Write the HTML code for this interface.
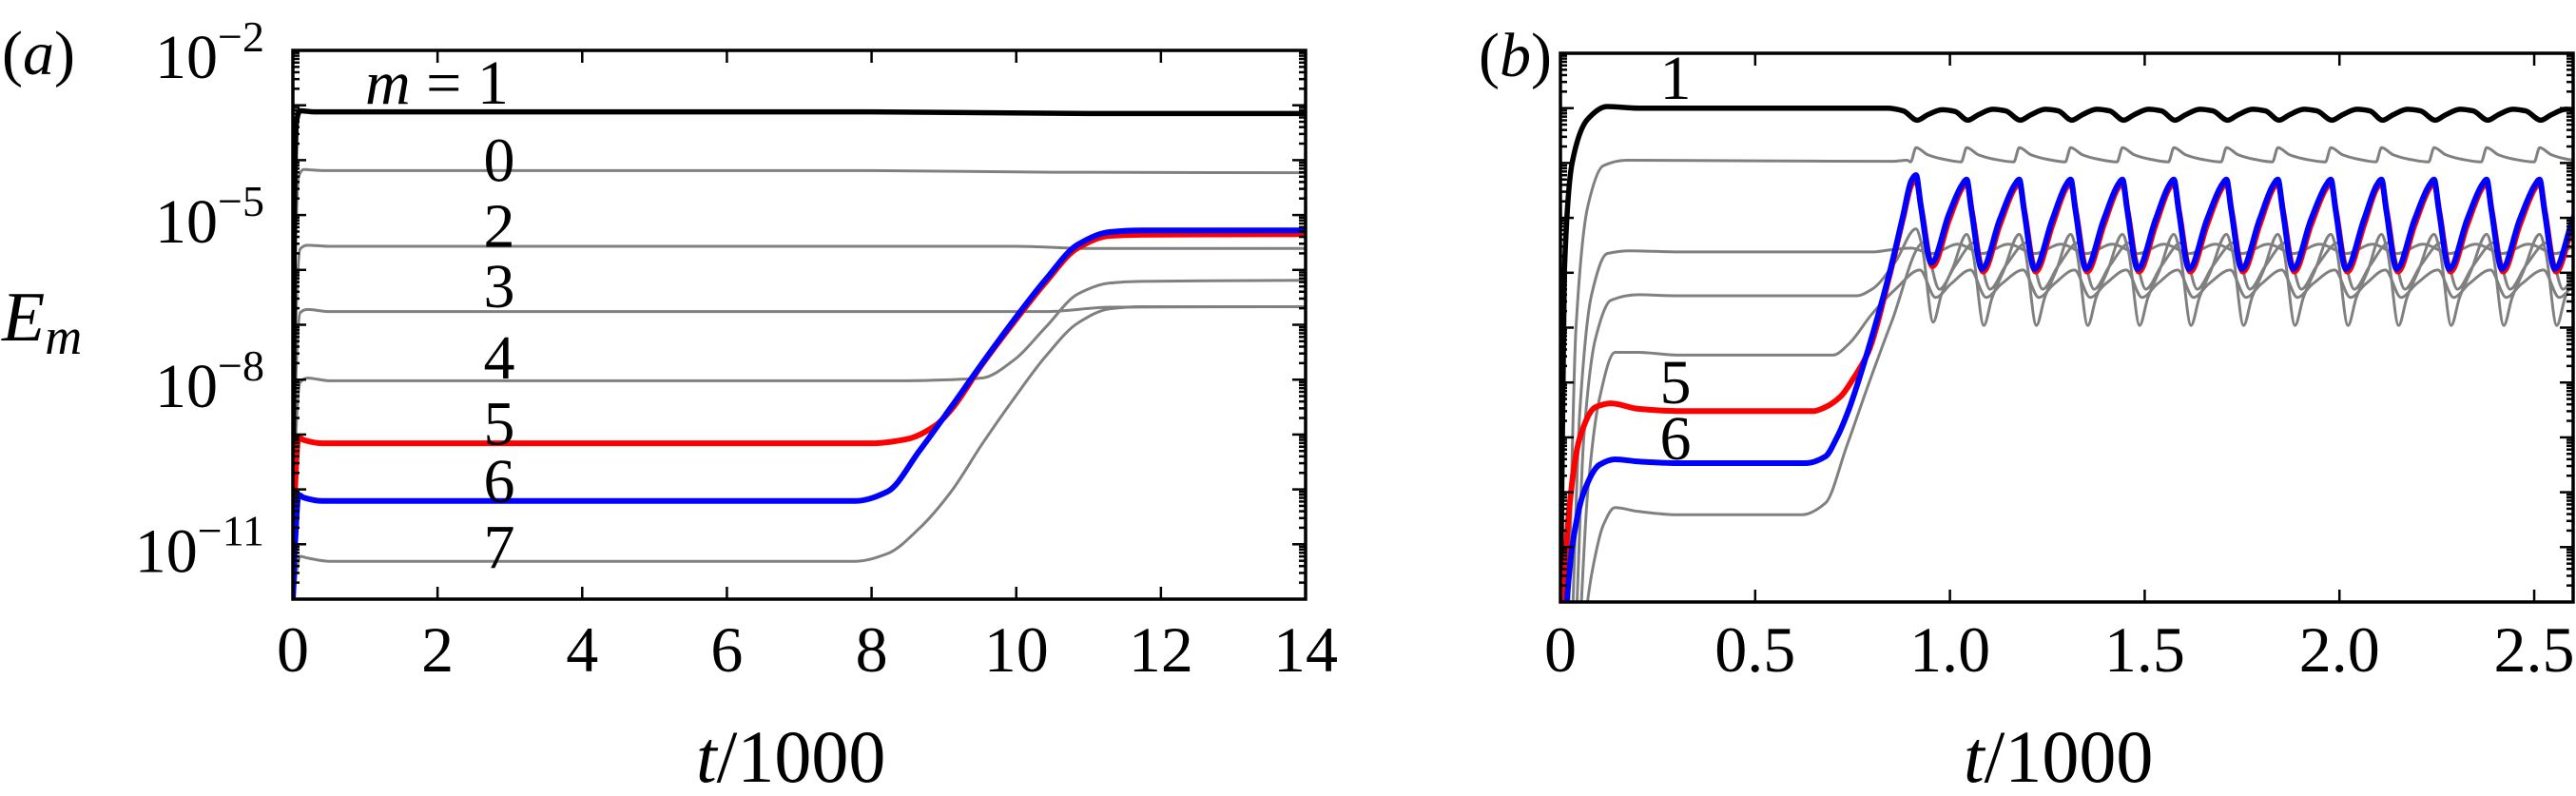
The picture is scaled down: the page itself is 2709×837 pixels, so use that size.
<!DOCTYPE html>
<html><head><meta charset="utf-8">
<style>
html,body{margin:0;padding:0;background:#fff;}
svg{display:block;}
svg text{font-family:"Liberation Serif","Times New Roman","Nimbus Roman","DejaVu Serif","Noto Serif CJK SC",serif;fill:#000;}
</style></head>
<body>
<svg id="fig" width="2709" height="837" viewBox="0 0 2709 837" xmlns="http://www.w3.org/2000/svg">
<defs>
<clipPath id="clipA"><rect x="308" y="53" width="1065" height="577"/></clipPath>
<clipPath id="clipB"><rect x="1641" y="56" width="1065" height="577"/></clipPath>
</defs>
<g id="panelA"></g>
<g id="panelB"></g>
<text x="2" y="78" font-size="66">(<tspan font-style="italic">a</tspan>)</text>
<text x="1555" y="80" font-size="66">(<tspan font-style="italic">b</tspan>)</text>
<text x="2" y="358" font-size="74" font-style="italic">E<tspan font-size="54" dy="14">m</tspan></text>
<text x="732" y="822" font-size="78"><tspan font-style="italic">t</tspan>/1000</text>
<text x="2065" y="822" font-size="78"><tspan font-style="italic">t</tspan>/1000</text>
</svg>
<script>
// ---------- Panel (a) data: [t/1000, log10 E] ----------
const aBlack=[[0,-12],[0.02,-5],[0.05,-3.3],[0.1,-3.1],[0.3,-3.12],[8,-3.12],[11,-3.15],[14,-3.15]];
const aM0=[[0,-12],[0.03,-6],[0.08,-4.3],[0.15,-4.17],[0.4,-4.19],[8,-4.19],[10.5,-4.22],[14,-4.23]];
const aM2=[[0,-12],[0.04,-7],[0.1,-5.62],[0.2,-5.55],[0.5,-5.57],[10,-5.57],[11,-5.61],[14,-5.61]];
const aM3=[[0,-12],[0.04,-8],[0.1,-6.78],[0.2,-6.72],[0.5,-6.76],[10.4,-6.76],[11.3,-6.68],[14,-6.67]];
const aM4=[[0,-12],[0.04,-9],[0.1,-8.05],[0.2,-7.97],[0.5,-8.02],[8.5,-8.02],[9.1,-8.0],[9.53,-7.97],[9.97,-7.64],[10.41,-7.04],[10.85,-6.44],[11.29,-6.24],[11.72,-6.21],[14,-6.19]];
const aM5=[[0,-12],[0.03,-10],[0.08,-9.05],[0.15,-9.1],[0.4,-9.16],[8.0,-9.16],[8.5,-9.08],[8.88,-8.84],[9.1,-8.55],[9.53,-7.72],[9.97,-6.95],[10.41,-6.22],[10.85,-5.6],[11.29,-5.38],[11.72,-5.36],[14,-5.35]];
const aM6=[[0,-12],[0.03,-11],[0.08,-10.1],[0.15,-10.15],[0.4,-10.21],[7.78,-10.21],[8.22,-10.04],[8.66,-9.3],[9.1,-8.5],[9.53,-7.7],[9.97,-6.91],[10.41,-6.17],[10.85,-5.54],[11.29,-5.31],[11.72,-5.28],[14,-5.28]];
const aM7=[[0,-12.3],[0.05,-11.5],[0.1,-11.22],[0.2,-11.25],[0.5,-11.31],[7.78,-11.31],[8.22,-11.17],[8.66,-10.71],[9.1,-10.04],[9.53,-9.17],[9.97,-8.34],[10.41,-7.57],[10.85,-6.97],[11.29,-6.71],[11.72,-6.67],[14,-6.67]];
const aXTicks=[0,2,4,6,8,10,12,14];
const aYTickExp=[-2,-5,-8,-11];
const aCurveLabels=["0","2","3","4","5","6","7"];
const aCurveLabelY=[-4.0,-5.2,-6.3,-7.6,-8.8,-9.85,-11.05];

// ---------- Panel (b) data ----------
const bBlackPre=[[0,-12.5],[0.01,-6],[0.03,-4],[0.07,-3.2],[0.12,-2.97],[0.2,-3.0],[0.5,-3.0],[0.84,-3.0],[0.88,-3.05]];
const bM0Pre=[[0.02,-12.5],[0.04,-7],[0.07,-4.8],[0.11,-4.05],[0.17,-3.95],[0.5,-3.96],[0.85,-3.97],[0.89,-3.95]];
const bM2Pre=[[0.03,-12.5],[0.05,-8.5],[0.08,-6.4],[0.12,-5.65],[0.18,-5.6],[0.3,-5.62],[0.8,-5.62],[0.85,-5.58],[0.9,-5.55]];
const bM3Pre=[[0.04,-12.5],[0.06,-9],[0.09,-7.2],[0.13,-6.5],[0.2,-6.4],[0.3,-6.42],[0.76,-6.42],[0.8,-6.3],[0.86,-5.8]];
const bM4Pre=[[0.05,-12.5],[0.07,-10],[0.1,-8.3],[0.14,-7.45],[0.2,-7.45],[0.3,-7.5],[0.7,-7.5],[0.74,-7.3],[0.8,-6.75],[0.86,-6.3]];
const bM7Pre=[[0.06,-12.5],[0.08,-11.5],[0.11,-10.6],[0.14,-10.28],[0.2,-10.35],[0.3,-10.41],[0.62,-10.41],[0.68,-10.2],[0.735,-9.16],[0.79,-8.05],[0.85,-6.9]];
const bRedPre=[[0.005,-12.5],[0.02,-10.5],[0.05,-9],[0.09,-8.45],[0.13,-8.38],[0.2,-8.48],[0.3,-8.52],[0.65,-8.52],[0.68,-8.45],[0.72,-8.25],[0.75,-7.95],[0.79,-7.45],[0.845,-6.05],[0.88,-5.0]];
const bBluePre=[[0.01,-12.5],[0.03,-11],[0.06,-10],[0.1,-9.5],[0.14,-9.4],[0.2,-9.44],[0.3,-9.47],[0.63,-9.47],[0.68,-9.35],[0.71,-9.0],[0.74,-8.5],[0.79,-7.4],[0.845,-6.0],[0.88,-4.95]];
const bCycleT=[0.913,1.043,1.178,1.310,1.443,1.575,1.710,1.842,1.978,2.108,2.243,2.378,2.514,2.647];
const bBluePk=[-4.22,-4.3,-4.3,-4.3,-4.3,-4.3,-4.3,-4.3,-4.3,-4.3,-4.3,-4.3,-4.3,-4.3];
const bBlueTr=[-5.82,-5.93,-5.93,-5.93,-5.93,-5.93,-5.93,-5.93,-5.93,-5.93,-5.93,-5.93,-5.93,-5.93];
const bRedPk=[-4.3,-4.36,-4.36,-4.36,-4.36,-4.36,-4.36,-4.36,-4.36,-4.36,-4.36,-4.36,-4.36,-4.36];
const bRedTr=[-5.88,-5.98,-5.98,-5.98,-5.98,-5.98,-5.98,-5.98,-5.98,-5.98,-5.98,-5.98,-5.98,-5.98];
const bBlackPk=[-3.03,-3.02,-3.02,-3.02,-3.02,-3.02,-3.02,-3.02,-3.02,-3.02,-3.02,-3.02,-3.02,-3.02];
const bBlackTr=[-3.22,-3.22,-3.22,-3.22,-3.22,-3.22,-3.22,-3.22,-3.22,-3.22,-3.22,-3.22,-3.22,-3.22];
const bM0Pk=[-3.72,-3.72,-3.72,-3.72,-3.72,-3.72,-3.72,-3.72,-3.72,-3.72,-3.72,-3.72,-3.72,-3.72];
const bM0Tr=[-3.98,-3.98,-3.98,-3.98,-3.98,-3.98,-3.98,-3.98,-3.98,-3.98,-3.98,-3.98,-3.98,-3.98];
const bM2Pk=[-5.48,-5.48,-5.48,-5.48,-5.48,-5.48,-5.48,-5.48,-5.48,-5.48,-5.48,-5.48,-5.48,-5.48];
const bM2Tr=[-5.65,-5.65,-5.65,-5.65,-5.65,-5.65,-5.65,-5.65,-5.65,-5.65,-5.65,-5.65,-5.65,-5.65];
const bM3Pk=[-5.2,-5.3,-5.3,-5.3,-5.3,-5.3,-5.3,-5.3,-5.3,-5.3,-5.3,-5.3,-5.3,-5.3];
const bM3Tr=[-6.9,-6.96,-6.96,-6.96,-6.96,-6.96,-6.96,-6.96,-6.96,-6.96,-6.96,-6.96,-6.96,-6.96];
const bM4Pk=[-5.95,-5.95,-5.95,-5.95,-5.95,-5.95,-5.95,-5.95,-5.95,-5.95,-5.95,-5.95,-5.95,-5.95];
const bM4Tr=[-6.45,-6.45,-6.45,-6.45,-6.45,-6.45,-6.45,-6.45,-6.45,-6.45,-6.45,-6.45,-6.45,-6.45];
const bM7Pk=[-5.45,-5.45,-5.45,-5.45,-5.45,-5.45,-5.45,-5.45,-5.45,-5.45,-5.45,-5.45,-5.45,-5.45];
const bM7Tr=[-6.3,-6.3,-6.3,-6.3,-6.3,-6.3,-6.3,-6.3,-6.3,-6.3,-6.3,-6.3,-6.3,-6.3];
const bXTicks=[0,0.5,1.0,1.5,2.0,2.5];
const bXTickLabels=["0","0.5","1.0","1.5","2.0","2.5"];

const NS="http://www.w3.org/2000/svg";
function mk(tag,attrs,parent){const e=document.createElementNS(NS,tag);for(const k in attrs)e.setAttribute(k,attrs[k]);parent.appendChild(e);return e;}
function axes(x0,x1,y0,y1,tmin,tmax){return{X:t=>x0+(t-tmin)/(tmax-tmin)*(x1-x0),Y:v=>y0+(-2-v)/10*(y1-y0),x0,x1,y0,y1};}
const A=axes(308,1373,53,630,0,14);
const B=axes(1641,2706,56,633,0,2.6);

function pathD(pts,ax){
  const P=pts.map(p=>[ax.X(p[0]),ax.Y(p[1])]);
  const n=P.length;
  const dx=[],s=[];
  for(let i=0;i<n-1;i++){dx.push(P[i+1][0]-P[i][0]);s.push((P[i+1][1]-P[i][1])/Math.max(dx[i],1e-6));}
  const m=new Array(n);
  m[0]=s[0];m[n-1]=s[n-2];
  for(let i=1;i<n-1;i++){
    if(s[i-1]*s[i]<=0)m[i]=0;
    else{const w1=2*dx[i]+dx[i-1],w2=dx[i]+2*dx[i-1];m[i]=(w1+w2)/(w1/s[i-1]+w2/s[i]);}
  }
  let d="M"+P[0][0].toFixed(2)+","+P[0][1].toFixed(2);
  for(let i=0;i<n-1;i++){
    const h=dx[i]/3;
    d+="C"+(P[i][0]+h).toFixed(2)+","+(P[i][1]+m[i]*h).toFixed(2)+" "+(P[i+1][0]-h).toFixed(2)+","+(P[i+1][1]-m[i+1]*h).toFixed(2)+" "+P[i+1][0].toFixed(2)+","+P[i+1][1].toFixed(2);
  }
  return d;
}
function frame(g,ax,name){
  for(let dec=-12;dec<-2;dec++){
    for(let k=1;k<=9;k++){
      const v=dec+Math.log10(k);
      const y=ax.Y(v);
      const len=(k===1)?14:7;
      const tl=mk("line",{x1:ax.x0,x2:ax.x0+len,y1:y,y2:y,stroke:"#000","stroke-width":2.5},g);
      
      
      const tr=mk("line",{x1:ax.x1,x2:ax.x1-len,y1:y,y2:y,stroke:"#000","stroke-width":2.5},g);
      
      
    }
  }
  const r=mk("rect",{x:ax.x0,y:ax.y0,width:ax.x1-ax.x0,height:ax.y1-ax.y0,fill:"none",stroke:"#000","stroke-width":3.5},g);
  
  
}
function xTicks(g,ax,ticks,labels){
  ticks.forEach((t,i)=>{
    const x=ax.X(t);
    const b=mk("line",{x1:x,x2:x,y1:ax.y1,y2:ax.y1-13,stroke:"#000","stroke-width":2.5},g);
    
    
    const tp=mk("line",{x1:x,x2:x,y1:ax.y0,y2:ax.y0+13,stroke:"#000","stroke-width":2.5},g);
    
    
    const tx=mk("text",{x:x,y:706,"font-size":68,"text-anchor":"middle"},g);
    tx.textContent=labels[i];
    
    
  });
}
function line(g,pts,ax,color,w,name){
  const p=mk("path",{d:pathD(pts,ax),fill:"none",stroke:color,"stroke-width":w,"stroke-linejoin":"round","stroke-linecap":"round"},g);
  
  
}
function osc(pre,pk,tr,phPk,phTr,extra){
  const pts=pre.slice();
  bCycleT.forEach((T,i)=>{
    const cyc=[[T+phPk,pk[i]],[T+phTr,tr[i]]];
    if(extra){extra(T,pk[i],tr[i]).forEach(q=>cyc.push(q));}
    cyc.sort((a,b)=>a[0]-b[0]);
    cyc.forEach(q=>{if(q[0]>pts[pts.length-1][0]+0.002)pts.push(q);});
  });
  return pts;
}

// ---------- draw panel a ----------
const gA=document.getElementById('panelA');
const cA=mk("g",{"clip-path":"url(#clipA)"},gA);


[[aM0,'curve-m0'],[aM2,'curve-m2'],[aM3,'curve-m3'],[aM4,'curve-m4'],[aM7,'curve-m7']].forEach(s=>line(cA,s[0],A,"#808080",3,s[1]));
line(cA,aBlack,A,"#000",5.5,'curve-m1');
line(cA,aM5,A,"#ff0000",6,'curve-m5');
line(cA,aM6,A,"#0000ff",6,'curve-m6');
frame(gA,A,'panel-a');
xTicks(gA,A,aXTicks,aXTicks.map(String));
aYTickExp.forEach(e=>{
  const y=A.Y(e);
  const t=mk("text",{x:278,y:y+29,"font-size":66,"text-anchor":"end"},gA);
  
  
  const s1=mk("tspan",{},t);s1.textContent="10";
  const s2=mk("tspan",{"font-size":46,dy:-28},t);s2.textContent="\u2212"+Math.abs(e);
});
const m1=mk("text",{x:384,y:109,"font-size":66},gA);


const m1a=mk("tspan",{"font-style":"italic"},m1);m1a.textContent="m";
const m1b=mk("tspan",{},m1);m1b.textContent=" = 1";
aCurveLabels.forEach((l,i)=>{
  const t=mk("text",{x:525,y:A.Y(aCurveLabelY[i])+22,"font-size":66,"text-anchor":"middle"},gA);
  t.textContent=l;
  
  
});

// ---------- draw panel b ----------
const gB=document.getElementById('panelB');
const cB=mk("g",{"clip-path":"url(#clipB)"},gB);


const sM0=osc(bM0Pre,bM0Pk,bM0Tr,0.0,-0.014,(T,p,t)=>[[T+0.03,p-0.13],[T+0.07,t+0.05]]);
const sM2=osc(bM2Pre,bM2Pk,bM2Tr,0.107,0.04);
const sM3=osc(bM3Pre,bM3Pk,bM3Tr,0.0,0.044,(T,p,t)=>[[T+0.015,p-0.3],[T+0.065,t+0.5],[T+0.095,t+1.0]]);
const sM4=osc(bM4Pre,bM4Pk,bM4Tr,0.01,0.05,(T,p,t)=>[[T+0.09,(p+t)/2]]);
const sM7=osc(bM7Pre,bM7Pk,bM7Tr,0.02,0.06,(T,p,t)=>[[T+0.1,(p+t)/2]]);
const sBlack=osc(bBlackPre,bBlackPk,bBlackTr,0.067,0.003,(T,p,t)=>[[T+0.03,t+0.1],[T+0.1,p-0.03]]);
const sRed=osc(bRedPre,bRedPk,bRedTr,0.0,0.042,(T,p,t)=>[[T+0.014,p-0.55],[T+0.085,t+0.85],[T-0.012,p-0.1]]);
const sBlue=osc(bBluePre,bBluePk,bBlueTr,0.0,0.039,(T,p,t)=>[[T+0.012,p-0.55],[T+0.085,t+0.9],[T-0.012,p-0.1]]);
[[sM0,'curve-m0'],[sM2,'curve-m2'],[sM3,'curve-m3'],[sM4,'curve-m4'],[sM7,'curve-m7']].forEach(s=>line(cB,s[0],B,"#808080",3,s[1]));
line(cB,sBlack,B,"#000",5.5,'curve-m1');
line(cB,sRed,B,"#ff0000",6,'curve-m5');
line(cB,sBlue,B,"#0000ff",6,'curve-m6');
frame(gB,B,'panel-b');
xTicks(gB,B,bXTicks,bXTickLabels);
[["1",104],["5",424],["6",483]].forEach(l=>{
  const t=mk("text",{x:1762,y:l[1],"font-size":66,"text-anchor":"middle"},gB);
  t.textContent=l[0];
  
  
});
</script>
</body></html>
